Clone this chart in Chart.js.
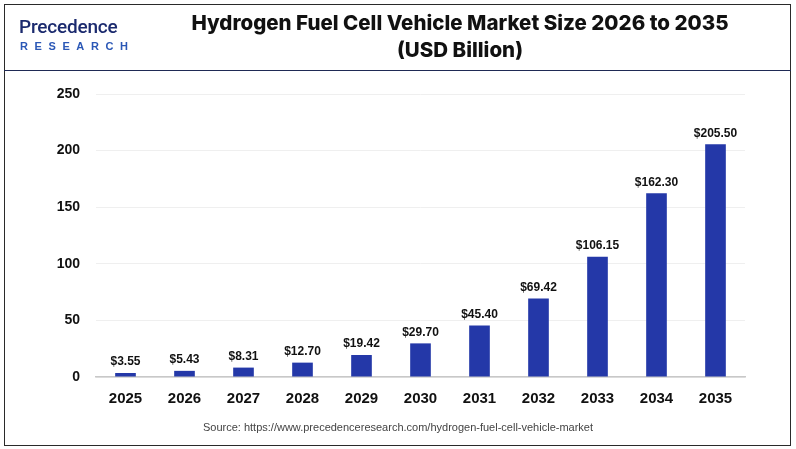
<!DOCTYPE html>
<html>
<head>
<meta charset="utf-8">
<script src="https://cdn.jsdelivr.net/npm/chart.js@4"></script>
<style>
  html, body { margin: 0; padding: 0; background: #fff; }
  #page { position: relative; width: 796px; height: 449px; overflow: hidden; }
  #frame { position: absolute; left: 4px; top: 4px; width: 785px; height: 440px; border: 1.5px solid #2a2a2a; }
  #head { position: absolute; left: 4px; top: 4px; width: 787px; height: 66px; border-bottom: 1.5px solid #1f2a55; }
  #logo1 { position: absolute; left: 19px; top: 15px; font: 500 19px Roboto, sans-serif; color: #1b2a6e; letter-spacing: -0.2px; }
  #logo2 { position: absolute; left: 20px; top: 40px; font: bold 11px "Liberation Sans", sans-serif; color: #2a57b6; letter-spacing: 6.6px; }
  #title { position: absolute; left: 160px; width: 600px; top: 9px; text-align: center; font: 800 20.5px Inter, sans-serif; color: #111; line-height: 27px; }
  #src { position: absolute; left: 0; width: 796px; top: 421px; text-align: center; font: 11px "Liberation Sans", sans-serif; color: #444; }
  canvas { position: absolute; left: 0; top: 0; }
</style>
</head>
<body>
<div id="page">
  <canvas id="Canvasnya" width="796" height="449"></canvas>
  <div id="frame"></div>
  <div id="head"></div>
  <div id="logo1">Precedence</div>
  <div id="logo2">RESEARCH</div>
  <div id="title">Hydrogen Fuel Cell Vehicle Market Size 2026 to 2035<br>(USD Billion)</div>
  <div id="src">Source: https://www.precedenceresearch.com/hydrogen-fuel-cell-vehicle-market</div>
</div>
<script>
var years = ["2025", "2026", "2027", "2028", "2029", "2030", "2031", "2032", "2033", "2034", "2035"];
var marketSize = [3.55, 5.43, 8.31, 12.70, 19.42, 29.70, 45.40, 69.42, 106.15, 162.30, 205.50];
var yTicks = [0, 50, 100, 150, 200, 250];

// draws the "$x.xx" labels on top of each bar
var barValueLabels = {
    id: 'barValueLabels',
    afterDatasetsDraw: function (chart) {
        var ctx = chart.ctx;
        var meta = chart.getDatasetMeta(0);
        ctx.save();
        ctx.font = 'bold 12px "Liberation Sans", Arial, sans-serif';
        ctx.fillStyle = '#111';
        ctx.textAlign = 'center';
        ctx.textBaseline = 'bottom';
        meta.data.forEach(function (bar, i) {
            ctx.fillText('$' + marketSize[i].toFixed(2), bar.x, bar.y - 5);
        });
        ctx.restore();
    }
};

var GKChart = document.getElementById("Canvasnya").getContext('2d');

var myChart = new Chart(GKChart, {
    type: 'bar',
    data: {
        labels: years,
        datasets: [{
            label: 'Market Size',
            data: marketSize,
            backgroundColor: '#2438a8',
            barPercentage: 0.7,
            categoryPercentage: 0.5
        }]
    },
    options: {
        responsive: false,
        animation: false,
        layout: { padding: { left: 46, right: 51, top: 94, bottom: 42 } },
        plugins: {
            legend: { display: false },
            tooltip: { enabled: false }
        },
        scales: {
            x: {
                grid: { display: false },
                border: { display: true, color: '#c8c8c8', width: 1.5 },
                ticks: {
                    color: '#111',
                    padding: 5,
                    font: { family: '"Liberation Sans", Arial, sans-serif', size: 15, weight: 'bold' }
                },
                afterFit: function (scale) { scale.height = 30; }
            },
            y: {
                min: 0,
                max: 250,
                afterBuildTicks: function (scale) {
                    scale.ticks = yTicks.map(function (v) { return { value: v }; });
                },
                grid: { color: '#efefef', drawTicks: false },
                border: { display: false },
                ticks: {
                    color: '#111',
                    padding: 16,
                    font: { family: '"Liberation Sans", Arial, sans-serif', size: 14, weight: 'bold' }
                },
                afterFit: function (scale) { scale.width = 50; }
            }
        }
    },
    plugins: [barValueLabels]
});
</script>
</body>
</html>
